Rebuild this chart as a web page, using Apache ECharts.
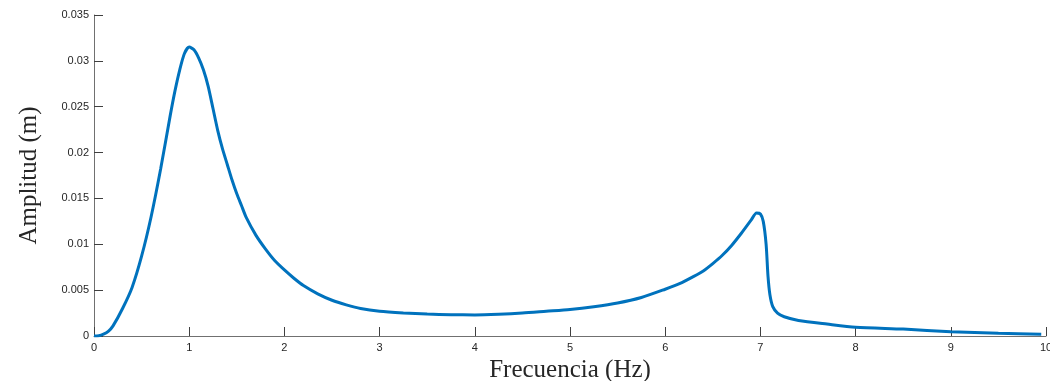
<!DOCTYPE html>
<html>
<head>
  <meta charset="utf-8">
  <title>Amplitud vs Frecuencia</title>
  <script src="https://cdn.jsdelivr.net/npm/echarts@6/dist/echarts.min.js"></script>
</head>
<body style="margin:0;background:#fff">
<div id="main" style="width:1050px;height:381px;"></div>
<script type="text/javascript">
  // frecuencia (Hz) y amplitud (m)
  const freq = [0, 0.05, 0.1, 0.15, 0.2, 0.3, 0.4, 0.5, 0.6, 0.7, 0.8, 0.85, 0.9, 0.95, 1.0, 1.05, 1.1, 1.15, 1.2, 1.25,
    1.3, 1.35, 1.4, 1.45, 1.5, 1.55, 1.6, 1.7, 1.8, 1.9, 2.0, 2.1, 2.2, 2.35, 2.5, 2.65, 2.8, 3.0, 3.25, 3.5,
    3.75, 4.0, 4.25, 4.5, 4.75, 5.0, 5.25, 5.5, 5.75, 6.0, 6.15, 6.3, 6.4, 6.5, 6.6, 6.7, 6.8, 6.9, 6.96, 7.0,
    7.03, 7.06, 7.08, 7.1, 7.13, 7.18, 7.25, 7.4, 7.7, 8.0, 8.5, 9.0, 9.5, 9.95];
  const amp = [0, 0.00003, 0.0002, 0.0005, 0.0011, 0.0030, 0.0053, 0.0087, 0.0130, 0.0182, 0.0240, 0.0267, 0.0290, 0.0308, 0.0315, 0.0312, 0.0303, 0.0290, 0.0272, 0.0248,
    0.0224, 0.0204, 0.0187, 0.0170, 0.0155, 0.0142, 0.0129, 0.0110, 0.0095, 0.0082, 0.0072, 0.0063, 0.0055, 0.0046, 0.0039, 0.0034, 0.0030, 0.0027, 0.00252, 0.0024,
    0.00232, 0.0023, 0.00237, 0.0025, 0.0027, 0.0029, 0.0032, 0.0036, 0.0042, 0.0051, 0.0057, 0.0065, 0.0071, 0.0079, 0.0088, 0.0099, 0.0112, 0.0126, 0.0134, 0.0133,
    0.0125, 0.0100, 0.0065, 0.0045, 0.0032, 0.0025, 0.0021, 0.0017, 0.0013, 0.00095, 0.00075, 0.00047, 0.0003, 0.0002];
  const yTicks = ['0', '0.005', '0.01', '0.015', '0.02', '0.025', '0.03', '0.035'];

  var myChart = echarts.init(document.getElementById('main'));
  var option = {
    animation: false,
    grid: { left: 94, right: 4, top: 15, bottom: 45, outerBoundsMode: 'none' },
    xAxis: {
      type: 'value',
      min: 0, max: 10, interval: 1,
      name: 'Frecuencia (Hz)',
      nameLocation: 'middle',
      nameGap: 21,
      nameTextStyle: { fontFamily: 'Liberation Serif', fontSize: 25, color: '#262626', verticalAlign: 'top' },
      axisLine: { lineStyle: { color: '#707070', width: 1 } },
      axisTick: { inside: true, length: 9, lineStyle: { color: '#404040' } },
      axisLabel: { color: '#262626', fontFamily: 'Liberation Sans', fontSize: 11, margin: 6 },
      splitLine: { show: false }
    },
    yAxis: {
      type: 'value',
      min: 0, max: 0.035, interval: 0.005,
      name: 'Amplitud (m)',
      nameLocation: 'middle',
      nameGap: 52,
      nameTextStyle: { fontFamily: 'Liberation Serif', fontSize: 25, color: '#262626' },
      axisLine: { show: true, lineStyle: { color: '#707070', width: 1 } },
      axisTick: { show: true, inside: true, length: 9, lineStyle: { color: '#404040' } },
      axisLabel: {
        color: '#262626', fontFamily: 'Liberation Sans', fontSize: 11, margin: 5,
        formatter: function (v) { return yTicks[Math.round(v / 0.005)]; }
      },
      splitLine: { show: false }
    },
    series: [{
      type: 'line',
      data: freq.map((f, i) => [f, amp[i]]),
      showSymbol: false,
      smooth: 0.25,
      lineStyle: { color: '#0072BD', width: 3 },
      itemStyle: { color: '#0072BD' }
    }]
  };
  myChart.setOption(option);
</script>
</body>
</html>
